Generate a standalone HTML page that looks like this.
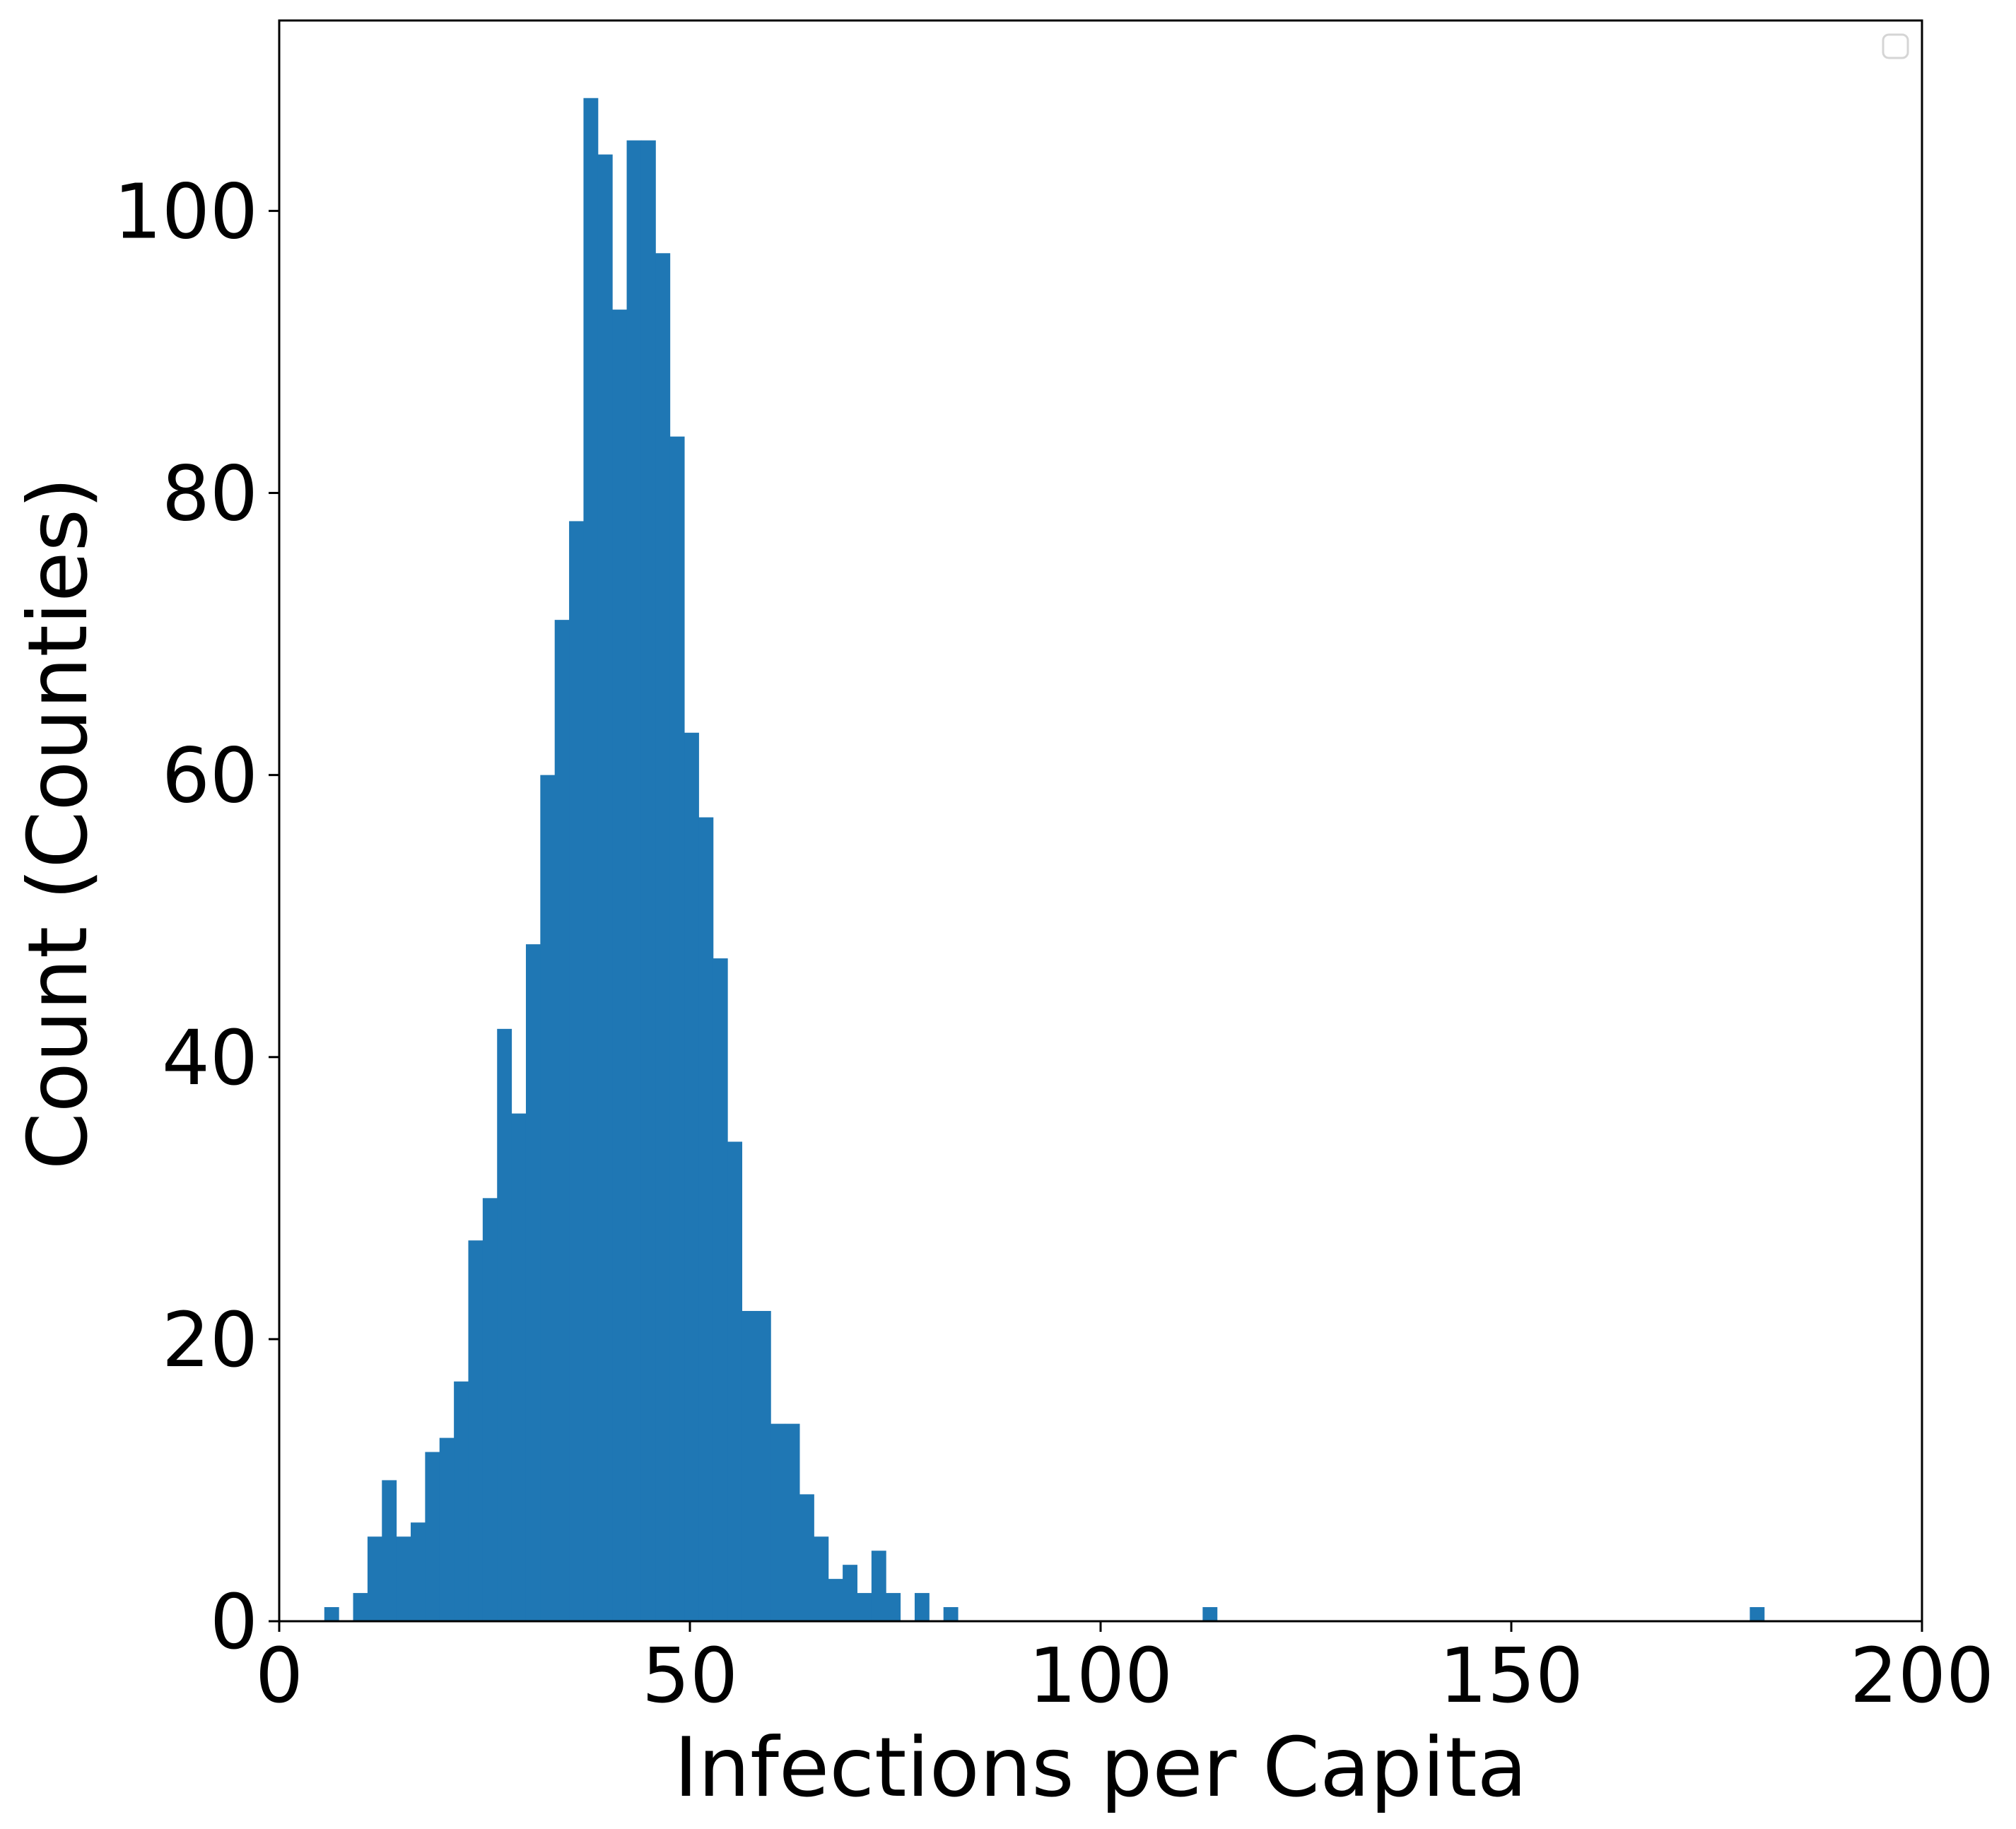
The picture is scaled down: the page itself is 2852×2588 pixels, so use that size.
<!DOCTYPE html>
<html><head><meta charset="utf-8"><style>
html,body{margin:0;padding:0;background:#fff;}
svg{display:block;font-family:"DejaVu Sans","Liberation Sans",sans-serif;}
</style></head><body>
<svg id="chart" width="2852" height="2588" viewBox="0 0 2852 2588">
<rect x="0" y="0" width="2852" height="2588" fill="#fff"/>
<g id="bars"></g>
<g id="ticks"></g>
<rect x="395" y="29" width="2324" height="2265" fill="none" stroke="#000" stroke-width="3"/>
<rect x="2664" y="49" width="35" height="33" rx="8" fill="#fff" stroke="#d5d5d5" stroke-width="3"/>
<text x="1557" y="2541" font-size="116" text-anchor="middle">Infections per Capita</text>
<text x="0" y="0" font-size="116" text-anchor="middle" transform="translate(122,1165) rotate(-90)">Count (Counties)</text>
</svg>
<script>
const binStart = 5.49;
const binWidth = 1.753;
const counts = [1,0,2,6,10,6,7,12,13,17,27,30,42,36,48,60,71,78,108,104,93,105,105,97,84,63,57,47,34,22,22,14,14,9,6,3,4,2,5,2,0,2,0,1,0,0,0,0,0,0,0,0,0,0,0,0,0,0,0,0,0,1,0,0,0,0,0,0,0,0,0,0,0,0,0,0,0,0,0,0,0,0,0,0,0,0,0,0,0,0,0,0,0,0,0,0,0,0,0,1];
const xTicks = [0,50,100,150,200];
const yTicks = [0,20,40,60,80,100];

const L=395,R=2719,T=29,B=2294;
const xMin=0,xMax=200,yMin=0,yMax=113.5;
function xs(v){return L+(v-xMin)/(xMax-xMin)*(R-L);}
function ys(v){return B-(v-yMin)/(yMax-yMin)*(B-T);}
const NS='http://www.w3.org/2000/svg';
const gb=document.getElementById('bars');
counts.forEach((c,i)=>{
  if(c<=0) return;
  const x0=xs(binStart+i*binWidth), x1=xs(binStart+(i+1)*binWidth);
  const r=document.createElementNS(NS,'rect');
  r.setAttribute('x',x0);r.setAttribute('width',x1-x0+0.5);
  r.setAttribute('y',ys(c));r.setAttribute('height',ys(0)-ys(c));
  r.setAttribute('fill','#1f77b4');
  
  
  gb.appendChild(r);
});
const gt=document.getElementById('ticks');
xTicks.forEach(v=>{
  const x=xs(v);
  const l=document.createElementNS(NS,'line');
  l.setAttribute('x1',x);l.setAttribute('x2',x);l.setAttribute('y1',B);l.setAttribute('y2',B+15);
  l.setAttribute('stroke','#000');l.setAttribute('stroke-width','3');
  
  
  gt.appendChild(l);
  const t=document.createElementNS(NS,'text');
  t.setAttribute('x',x);t.setAttribute('y',2408);t.setAttribute('font-size','107');t.setAttribute('text-anchor','middle');
  t.textContent=v;
  
  
  gt.appendChild(t);
});
yTicks.forEach(v=>{
  const y=ys(v);
  const l=document.createElementNS(NS,'line');
  l.setAttribute('x1',L-15);l.setAttribute('x2',L);l.setAttribute('y1',y);l.setAttribute('y2',y);
  l.setAttribute('stroke','#000');l.setAttribute('stroke-width','3');
  
  
  gt.appendChild(l);
  const t=document.createElementNS(NS,'text');
  t.setAttribute('x',L-30);t.setAttribute('y',y+38);t.setAttribute('font-size','107');t.setAttribute('text-anchor','end');
  t.textContent=v;
  
  
  gt.appendChild(t);
});
</script>
</body></html>
